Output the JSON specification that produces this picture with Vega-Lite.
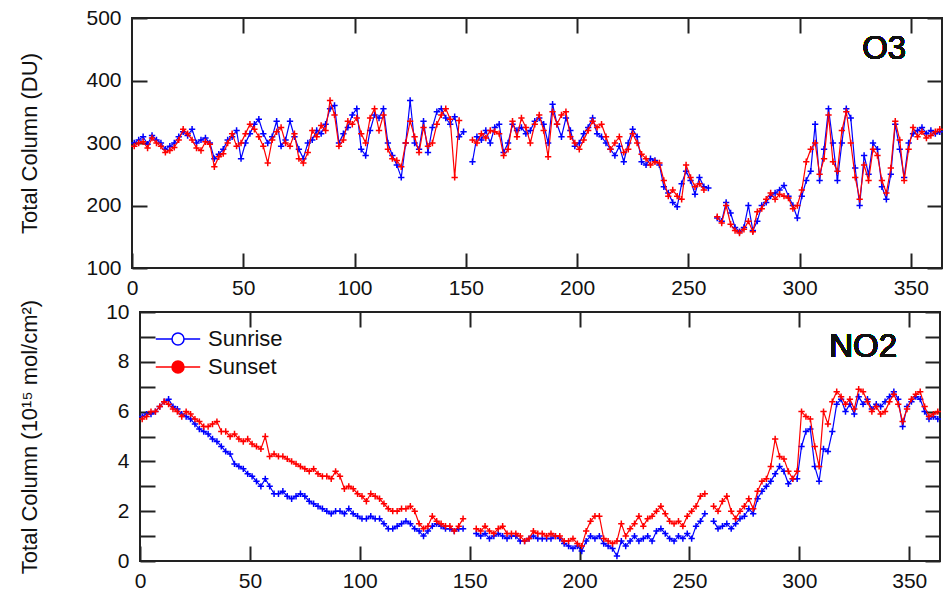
{
  "$schema": "https://vega.github.io/schema/vega-lite/v6.json",
  "background": "white",
  "padding": {"left": 16, "top": 6, "right": 0, "bottom": 0},
  "config": {
    "font": "Liberation Sans",
    "view": {"stroke": "#222", "strokeWidth": 2},
    "axis": {"domain": false, "grid": false, "labelFont": "Liberation Sans", "labelFontSize": 21, "labelColor": "#111", "titleFont": "Liberation Sans", "titleFontSize": 22, "titleFontWeight": "normal", "titleColor": "#111", "tickColor": "#222", "tickWidth": 2, "labelFlush": false, "labelOverlap": false}
  },
  "datasets": {
    "v": [
      {"d":1,"or":300,"os":295,"nr":5.8,"ns":5.7},
      {"d":3,"or":305,"os":300,"nr":5.9,"ns":5.8},
      {"d":5,"or":310,"os":302,"nr":5.9,"ns":6.0},
      {"d":7,"or":298,"os":292,"nr":6.0,"ns":6.0},
      {"d":9,"or":312,"os":308,"nr":6.2,"ns":6.2},
      {"d":11,"or":305,"os":300,"nr":6.4,"ns":6.4},
      {"d":13,"or":300,"os":295,"nr":6.5,"ns":6.3},
      {"d":15,"or":290,"os":285,"nr":6.2,"ns":6.1},
      {"d":17,"or":295,"os":288,"nr":6.1,"ns":6.0},
      {"d":19,"or":300,"os":293,"nr":5.9,"ns":5.8},
      {"d":21,"or":310,"os":305,"nr":5.8,"ns":6.0},
      {"d":23,"or":318,"os":322,"nr":5.7,"ns":5.9},
      {"d":25,"or":312,"os":315,"nr":5.5,"ns":5.7},
      {"d":27,"or":322,"os":305,"nr":5.3,"ns":5.6},
      {"d":29,"or":300,"os":292,"nr":5.2,"ns":5.4},
      {"d":31,"or":305,"os":288,"nr":5.1,"ns":5.4},
      {"d":33,"or":308,"os":302,"nr":4.9,"ns":5.5},
      {"d":35,"or":300,"os":298,"nr":4.8,"ns":5.6},
      {"d":37,"or":275,"os":262,"nr":4.6,"ns":5.2},
      {"d":39,"or":282,"os":278,"nr":4.4,"ns":5.2},
      {"d":41,"or":290,"os":283,"nr":4.3,"ns":5.0},
      {"d":43,"or":305,"os":300,"nr":3.9,"ns":5.1},
      {"d":45,"or":310,"os":315,"nr":3.8,"ns":4.9},
      {"d":47,"or":320,"os":295,"nr":3.7,"ns":4.8},
      {"d":49,"or":275,"os":300,"nr":3.5,"ns":4.9},
      {"d":51,"or":300,"os":315,"nr":3.4,"ns":4.7},
      {"d":53,"or":315,"os":330,"nr":3.2,"ns":4.6},
      {"d":55,"or":330,"os":322,"nr":3.0,"ns":4.5},
      {"d":57,"or":338,"os":310,"nr":3.3,"ns":5.0},
      {"d":59,"or":315,"os":295,"nr":3.0,"ns":4.2},
      {"d":61,"or":300,"os":268,"nr":2.7,"ns":4.3},
      {"d":63,"or":310,"os":305,"nr":2.7,"ns":4.2},
      {"d":65,"or":335,"os":318,"nr":2.8,"ns":4.2},
      {"d":67,"or":295,"os":325,"nr":2.6,"ns":4.1},
      {"d":69,"or":305,"os":300,"nr":2.5,"ns":4.0},
      {"d":71,"or":335,"os":295,"nr":2.6,"ns":3.9},
      {"d":73,"or":310,"os":315,"nr":2.7,"ns":3.8},
      {"d":75,"or":290,"os":275,"nr":2.6,"ns":3.7},
      {"d":77,"or":275,"os":268,"nr":2.4,"ns":3.6},
      {"d":79,"or":300,"os":285,"nr":2.3,"ns":3.7},
      {"d":81,"or":305,"os":320,"nr":2.2,"ns":3.5},
      {"d":83,"or":320,"os":310,"nr":2.1,"ns":3.4},
      {"d":85,"or":315,"os":328,"nr":2.0,"ns":3.4},
      {"d":87,"or":330,"os":320,"nr":1.9,"ns":3.3},
      {"d":89,"or":355,"os":368,"nr":2.0,"ns":3.6},
      {"d":91,"or":360,"os":345,"nr":2.0,"ns":3.4},
      {"d":93,"or":300,"os":295,"nr":1.9,"ns":2.9},
      {"d":95,"or":315,"os":305,"nr":2.1,"ns":3.0},
      {"d":97,"or":325,"os":335,"nr":1.9,"ns":2.9},
      {"d":99,"or":345,"os":330,"nr":1.8,"ns":2.7},
      {"d":101,"or":355,"os":340,"nr":1.7,"ns":2.6},
      {"d":103,"or":290,"os":315,"nr":1.7,"ns":2.4},
      {"d":105,"or":280,"os":300,"nr":1.8,"ns":2.7},
      {"d":107,"or":320,"os":340,"nr":1.7,"ns":2.6},
      {"d":109,"or":345,"os":355,"nr":1.7,"ns":2.5},
      {"d":111,"or":340,"os":320,"nr":1.5,"ns":2.3},
      {"d":113,"or":355,"os":345,"nr":1.3,"ns":2.1},
      {"d":115,"or":300,"os":290,"nr":1.3,"ns":2.0},
      {"d":117,"or":280,"os":275,"nr":1.4,"ns":2.0},
      {"d":119,"or":265,"os":272,"nr":1.5,"ns":2.1},
      {"d":121,"or":245,"os":262,"nr":1.6,"ns":2.1},
      {"d":123,"or":300,"os":300,"nr":1.5,"ns":2.2},
      {"d":125,"or":368,"os":335,"nr":1.3,"ns":2.0},
      {"d":127,"or":300,"os":310,"nr":1.2,"ns":1.5},
      {"d":129,"or":290,"os":285,"nr":1.0,"ns":1.3},
      {"d":131,"or":335,"os":325,"nr":1.2,"ns":1.4},
      {"d":133,"or":285,"os":295,"nr":1.4,"ns":1.8},
      {"d":135,"or":325,"os":300,"nr":1.5,"ns":1.6},
      {"d":137,"or":350,"os":330,"nr":1.4,"ns":1.5},
      {"d":139,"or":355,"os":345,"nr":1.3,"ns":1.4},
      {"d":141,"or":340,"os":355,"nr":1.3,"ns":1.4},
      {"d":143,"or":330,"os":338,"nr":1.2,"ns":1.2},
      {"d":145,"or":342,"os":245,"nr":1.3,"ns":1.4},
      {"d":147,"or":310,"os":336,"nr":1.3,"ns":1.7},
      {"d":149,"or":318,"os":null,"nr":null,"ns":null},
      {"d":151,"or":null,"os":null,"nr":null,"ns":null},
      {"d":153,"or":270,"os":305,"nr":1.1,"ns":1.3},
      {"d":155,"or":310,"os":300,"nr":1.0,"ns":1.2},
      {"d":157,"or":305,"os":315,"nr":1.1,"ns":1.4},
      {"d":159,"or":320,"os":308,"nr":0.9,"ns":1.2},
      {"d":161,"or":300,"os":320,"nr":1.0,"ns":1.1},
      {"d":163,"or":325,"os":318,"nr":1.1,"ns":1.3},
      {"d":165,"or":330,"os":315,"nr":1.0,"ns":1.4},
      {"d":167,"or":285,"os":280,"nr":0.9,"ns":1.1},
      {"d":169,"or":300,"os":290,"nr":1.0,"ns":1.1},
      {"d":171,"or":330,"os":335,"nr":1.0,"ns":1.1},
      {"d":173,"or":320,"os":310,"nr":0.8,"ns":1.0},
      {"d":175,"or":325,"os":340,"nr":0.8,"ns":0.8},
      {"d":177,"or":315,"os":325,"nr":0.9,"ns":0.9},
      {"d":179,"or":320,"os":300,"nr":1.0,"ns":1.2},
      {"d":181,"or":335,"os":330,"nr":0.9,"ns":1.1},
      {"d":183,"or":340,"os":345,"nr":0.9,"ns":1.1},
      {"d":185,"or":330,"os":320,"nr":0.9,"ns":1.0},
      {"d":187,"or":300,"os":278,"nr":0.9,"ns":1.1},
      {"d":189,"or":362,"os":350,"nr":1.0,"ns":1.0},
      {"d":191,"or":330,"os":330,"nr":0.9,"ns":1.0},
      {"d":193,"or":310,"os":345,"nr":0.7,"ns":0.8},
      {"d":195,"or":340,"os":350,"nr":0.6,"ns":0.8},
      {"d":197,"or":320,"os":310,"nr":0.5,"ns":0.9},
      {"d":199,"or":295,"os":300,"nr":0.6,"ns":0.7},
      {"d":201,"or":300,"os":290,"nr":0.4,"ns":0.6},
      {"d":203,"or":315,"os":305,"nr":0.8,"ns":1.2},
      {"d":205,"or":325,"os":320,"nr":1.0,"ns":1.6},
      {"d":207,"or":340,"os":335,"nr":0.9,"ns":1.8},
      {"d":209,"or":315,"os":325,"nr":1.0,"ns":1.8},
      {"d":211,"or":310,"os":330,"nr":0.7,"ns":0.9},
      {"d":213,"or":300,"os":310,"nr":0.6,"ns":0.8},
      {"d":215,"or":290,"os":290,"nr":0.5,"ns":0.7},
      {"d":217,"or":280,"os":300,"nr":0.2,"ns":0.8},
      {"d":219,"or":295,"os":310,"nr":0.8,"ns":1.5},
      {"d":221,"or":270,"os":285,"nr":0.6,"ns":1.0},
      {"d":223,"or":300,"os":290,"nr":0.8,"ns":1.3},
      {"d":225,"or":322,"os":315,"nr":1.0,"ns":1.5},
      {"d":227,"or":310,"os":300,"nr":0.8,"ns":1.8},
      {"d":229,"or":270,"os":282,"nr":0.9,"ns":1.4},
      {"d":231,"or":265,"os":275,"nr":1.0,"ns":1.7},
      {"d":233,"or":275,"os":265,"nr":0.8,"ns":1.8},
      {"d":235,"or":272,"os":270,"nr":1.2,"ns":2.0},
      {"d":237,"or":265,"os":268,"nr":1.3,"ns":2.2},
      {"d":239,"or":230,"os":240,"nr":1.1,"ns":1.9},
      {"d":241,"or":220,"os":215,"nr":0.9,"ns":1.6},
      {"d":243,"or":205,"os":225,"nr":0.8,"ns":1.5},
      {"d":245,"or":198,"os":215,"nr":1.0,"ns":1.6},
      {"d":247,"or":235,"os":210,"nr":0.9,"ns":1.4},
      {"d":249,"or":255,"os":265,"nr":1.1,"ns":1.8},
      {"d":251,"or":240,"os":245,"nr":0.9,"ns":2.0},
      {"d":253,"or":218,"os":230,"nr":1.4,"ns":2.2},
      {"d":255,"or":245,"os":235,"nr":1.6,"ns":2.6},
      {"d":257,"or":230,"os":225,"nr":1.9,"ns":2.7},
      {"d":259,"or":228,"os":null,"nr":null,"ns":null},
      {"d":261,"or":null,"os":null,"nr":1.6,"ns":2.2},
      {"d":263,"or":180,"os":182,"nr":1.3,"ns":2.0},
      {"d":265,"or":175,"os":172,"nr":1.4,"ns":2.4},
      {"d":267,"or":205,"os":200,"nr":1.5,"ns":2.6},
      {"d":269,"or":188,"os":170,"nr":1.3,"ns":2.0},
      {"d":271,"or":165,"os":160,"nr":1.5,"ns":1.7},
      {"d":273,"or":158,"os":156,"nr":1.7,"ns":2.0},
      {"d":275,"or":165,"os":162,"nr":1.8,"ns":2.2},
      {"d":277,"or":200,"os":175,"nr":2.1,"ns":2.5},
      {"d":279,"or":160,"os":158,"nr":1.9,"ns":2.1},
      {"d":281,"or":175,"os":190,"nr":2.5,"ns":2.8},
      {"d":283,"or":200,"os":195,"nr":2.8,"ns":3.2},
      {"d":285,"or":205,"os":210,"nr":3.0,"ns":3.3},
      {"d":287,"or":215,"os":220,"nr":3.2,"ns":3.8},
      {"d":289,"or":220,"os":210,"nr":3.5,"ns":4.9},
      {"d":291,"or":225,"os":218,"nr":3.8,"ns":4.2},
      {"d":293,"or":232,"os":215,"nr":3.6,"ns":4.1},
      {"d":295,"or":215,"os":212,"nr":3.1,"ns":3.6},
      {"d":297,"or":200,"os":195,"nr":3.3,"ns":3.3},
      {"d":299,"or":180,"os":200,"nr":3.3,"ns":3.6},
      {"d":301,"or":215,"os":225,"nr":4.6,"ns":6.0},
      {"d":303,"or":240,"os":270,"nr":5.2,"ns":5.8},
      {"d":305,"or":255,"os":290,"nr":5.3,"ns":5.7},
      {"d":307,"or":330,"os":300,"nr":3.8,"ns":4.6},
      {"d":309,"or":240,"os":250,"nr":3.2,"ns":3.8},
      {"d":311,"or":290,"os":275,"nr":4.5,"ns":6.0},
      {"d":313,"or":355,"os":345,"nr":4.4,"ns":5.5},
      {"d":315,"or":300,"os":270,"nr":5.2,"ns":6.4},
      {"d":317,"or":240,"os":255,"nr":6.3,"ns":6.8},
      {"d":319,"or":300,"os":320,"nr":6.5,"ns":6.6},
      {"d":321,"or":355,"os":350,"nr":6.0,"ns":6.3},
      {"d":323,"or":340,"os":300,"nr":6.3,"ns":6.5},
      {"d":325,"or":260,"os":245,"nr":5.9,"ns":6.1},
      {"d":327,"or":200,"os":210,"nr":6.6,"ns":6.9},
      {"d":329,"or":280,"os":265,"nr":6.3,"ns":6.8},
      {"d":331,"or":250,"os":240,"nr":6.5,"ns":6.4},
      {"d":333,"or":300,"os":290,"nr":6.1,"ns":6.0},
      {"d":335,"or":290,"os":280,"nr":6.3,"ns":6.2},
      {"d":337,"or":230,"os":240,"nr":6.2,"ns":5.9},
      {"d":339,"or":210,"os":220,"nr":6.4,"ns":6.0},
      {"d":341,"or":250,"os":260,"nr":6.6,"ns":6.4},
      {"d":343,"or":330,"os":335,"nr":6.8,"ns":6.7},
      {"d":345,"or":290,"os":305,"nr":6.5,"ns":6.3},
      {"d":347,"or":245,"os":240,"nr":5.4,"ns":5.6},
      {"d":349,"or":300,"os":290,"nr":6.2,"ns":6.1},
      {"d":351,"or":315,"os":325,"nr":6.4,"ns":6.5},
      {"d":353,"or":320,"os":310,"nr":6.6,"ns":6.7},
      {"d":355,"or":325,"os":318,"nr":6.5,"ns":6.8},
      {"d":357,"or":315,"os":308,"nr":6.0,"ns":6.2},
      {"d":359,"or":320,"os":312,"nr":5.7,"ns":5.8},
      {"d":361,"or":315,"os":318,"nr":5.8,"ns":5.9},
      {"d":363,"or":318,"os":322,"nr":5.7,"ns":6.0}
    ]
  },
  "columns": 1,
  "align": "none",
  "spacing": -1,
  "resolve": {"legend": {"color": "independent"}},
  "concat": [
    {
      "spacing": 0,
      "resolve": {"legend": {"color": "independent"}},
      "hconcat": [
        {"width": 1, "height": 1, "view": {"stroke": null}, "data": {"values": [{"a": 0}]}, "mark": {"type": "text"}, "encoding": {"text": {"value": ""}}},
        {
          "width": 810,
          "height": 250,
          "data": {"name": "v"},
          "resolve": {"axis": {"x": "independent", "y": "independent"}},
          "layer": [
            {
              "mark": {"type": "line", "strokeWidth": 1.2, "invalid": "break-paths-show-domains"},
              "encoding": {
                "x": {"field": "d", "type": "quantitative", "scale": {"domain": [0, 364], "nice": false, "zero": false},
                      "axis": {"orient": "bottom", "values": [0, 50, 100, 150, 200, 250, 300, 350], "tickSize": -15, "labelPadding": 24, "title": null}},
                "y": {"field": "or", "type": "quantitative", "scale": {"domain": [100, 500], "nice": false, "zero": false},
                      "axis": {"orient": "left", "values": [100, 200, 300, 400, 500], "tickSize": -15, "labelPadding": 26, "title": "Total Column  (DU)", "titlePadding": 44}},
                "color": {"datum": "Sunrise", "scale": {"domain": ["Sunrise", "Sunset"], "range": ["#0000ff", "#ff0000"]}, "legend": null}
              }
            },
            {
              "mark": {"type": "point", "shape": "M-1,0H1M0,-1V1", "filled": false, "size": 40, "strokeWidth": 1.5, "opacity": 1},
              "encoding": {
                "x": {"field": "d", "type": "quantitative", "scale": {"domain": [0, 364], "nice": false, "zero": false},
                      "axis": {"orient": "top", "values": [50, 100, 150, 200, 250, 300, 350], "tickSize": -15, "labels": false, "title": null}},
                "y": {"field": "or", "type": "quantitative", "scale": {"domain": [100, 500], "nice": false, "zero": false},
                      "axis": {"orient": "right", "values": [100, 200, 300, 400, 500], "tickSize": -15, "labels": false, "title": null}},
                "color": {"datum": "Sunrise", "scale": {"domain": ["Sunrise", "Sunset"], "range": ["#0000ff", "#ff0000"]}, "legend": null}
              }
            },
            {
              "mark": {"type": "line", "strokeWidth": 1.2, "invalid": "break-paths-show-domains"},
              "encoding": {
                "x": {"field": "d", "type": "quantitative", "scale": {"domain": [0, 364], "nice": false, "zero": false}, "axis": null},
                "y": {"field": "os", "type": "quantitative", "scale": {"domain": [100, 500], "nice": false, "zero": false}, "axis": null},
                "color": {"datum": "Sunset", "scale": {"domain": ["Sunrise", "Sunset"], "range": ["#0000ff", "#ff0000"]}, "legend": null}
              }
            },
            {
              "mark": {"type": "point", "shape": "M-1,0H1M0,-1V1", "filled": false, "size": 40, "strokeWidth": 1.5, "opacity": 1},
              "encoding": {
                "x": {"field": "d", "type": "quantitative", "scale": {"domain": [0, 364], "nice": false, "zero": false}, "axis": null},
                "y": {"field": "os", "type": "quantitative", "scale": {"domain": [100, 500], "nice": false, "zero": false}, "axis": null},
                "color": {"datum": "Sunset", "scale": {"domain": ["Sunrise", "Sunset"], "range": ["#0000ff", "#ff0000"]}, "legend": null}
              }
            },
            {
              "mark": {"type": "text", "font": "Liberation Sans", "fontSize": 33, "fontWeight": "normal", "color": "#111"},
              "encoding": {
                "x": {"datum": 338, "type": "quantitative", "scale": {"domain": [0, 364], "nice": false, "zero": false}, "axis": null},
                "y": {"datum": 450, "type": "quantitative", "scale": {"domain": [100, 500], "nice": false, "zero": false}, "axis": null},
                "text": {"value": "O3"}
              }
            }
          ]
        }
      ]
    },
    {
      "spacing": 0,
      "resolve": {"legend": {"color": "independent"}},
      "hconcat": [
        {"width": 1, "height": 1, "view": {"stroke": null}, "data": {"values": [{"a": 0}]}, "mark": {"type": "text"}, "encoding": {"text": {"value": ""}}},
        {
          "width": 800,
          "height": 249,
          "data": {"name": "v"},
          "resolve": {"axis": {"x": "independent", "y": "independent"}},
          "layer": [
            {
              "mark": {"type": "line", "strokeWidth": 1.2, "invalid": "break-paths-show-domains"},
              "encoding": {
                "x": {"field": "d", "type": "quantitative", "scale": {"domain": [0, 364], "nice": false, "zero": false},
                      "axis": {"orient": "bottom", "values": [0, 50, 100, 150, 200, 250, 300, 350], "tickSize": -15, "labelPadding": 24, "title": null}},
                "y": {"field": "nr", "type": "quantitative", "scale": {"domain": [0, 10], "nice": false, "zero": false},
                      "axis": {"orient": "left", "values": [0, 1, 2, 3, 4, 5, 6, 7, 8, 9, 10], "tickSize": -15, "labelPadding": 26, "labelExpr": "datum.value % 2 ? '' : datum.label", "title": "Total Column (10¹⁵ mol/cm²)", "titlePadding": 64,
                               "encode": {"ticks": {"update": {"x2": {"signal": "datum.value % 2 ? 8 : 15"}}}}}},
                "color": {"datum": "Sunrise", "scale": {"domain": ["Sunrise", "Sunset"], "range": ["#0000ff", "#ff0000"]},
                          "legend": {"orient": "none", "legendX": 27, "legendY": 16, "title": null, "symbolType": "M-3.7,0H-1M1,0H3.7M-1,0A1,1,0,1,1,1,0A1,1,0,1,1,-1,0Z", "symbolSize": 144, "symbolStrokeWidth": 1.5, "labelFontSize": 22, "labelFont": "Liberation Sans", "labelColor": "#111", "labelOffset": 19, "rowPadding": 6, "padding": 0,
                                     "encode": {"symbols": {"update": {"fill": {"signal": "datum.value === 'Sunset' ? '#ff0000' : '#ffffff'"}}}}}}
              }
            },
            {
              "mark": {"type": "point", "shape": "M-1,0H1M0,-1V1", "filled": false, "size": 40, "strokeWidth": 1.5, "opacity": 1},
              "encoding": {
                "x": {"field": "d", "type": "quantitative", "scale": {"domain": [0, 364], "nice": false, "zero": false},
                      "axis": {"orient": "top", "values": [50, 100, 150, 200, 250, 300, 350], "tickSize": -15, "labels": false, "title": null}},
                "y": {"field": "nr", "type": "quantitative", "scale": {"domain": [0, 10], "nice": false, "zero": false},
                      "axis": {"orient": "right", "values": [0, 1, 2, 3, 4, 5, 6, 7, 8, 9, 10], "tickSize": -15, "labels": false, "title": null,
                               "encode": {"ticks": {"update": {"x2": {"signal": "datum.value % 2 ? -8 : -15"}}}}}},
                "color": {"datum": "Sunrise", "scale": {"domain": ["Sunrise", "Sunset"], "range": ["#0000ff", "#ff0000"]},
                          "legend": {"orient": "none", "legendX": 27, "legendY": 16, "title": null, "symbolType": "M-3.7,0H-1M1,0H3.7M-1,0A1,1,0,1,1,1,0A1,1,0,1,1,-1,0Z", "symbolSize": 144, "symbolStrokeWidth": 1.5, "labelFontSize": 22, "labelFont": "Liberation Sans", "labelColor": "#111", "labelOffset": 19, "rowPadding": 6, "padding": 0,
                                     "encode": {"symbols": {"update": {"fill": {"signal": "datum.value === 'Sunset' ? '#ff0000' : '#ffffff'"}}}}}}
              }
            },
            {
              "mark": {"type": "line", "strokeWidth": 1.2, "invalid": "break-paths-show-domains"},
              "encoding": {
                "x": {"field": "d", "type": "quantitative", "scale": {"domain": [0, 364], "nice": false, "zero": false}, "axis": null},
                "y": {"field": "ns", "type": "quantitative", "scale": {"domain": [0, 10], "nice": false, "zero": false}, "axis": null},
                "color": {"datum": "Sunset", "scale": {"domain": ["Sunrise", "Sunset"], "range": ["#0000ff", "#ff0000"]},
                          "legend": {"orient": "none", "legendX": 27, "legendY": 16, "title": null, "symbolType": "M-3.7,0H-1M1,0H3.7M-1,0A1,1,0,1,1,1,0A1,1,0,1,1,-1,0Z", "symbolSize": 144, "symbolStrokeWidth": 1.5, "labelFontSize": 22, "labelFont": "Liberation Sans", "labelColor": "#111", "labelOffset": 19, "rowPadding": 6, "padding": 0,
                                     "encode": {"symbols": {"update": {"fill": {"signal": "datum.value === 'Sunset' ? '#ff0000' : '#ffffff'"}}}}}}
              }
            },
            {
              "mark": {"type": "point", "shape": "M-1,0H1M0,-1V1", "filled": false, "size": 40, "strokeWidth": 1.5, "opacity": 1},
              "encoding": {
                "x": {"field": "d", "type": "quantitative", "scale": {"domain": [0, 364], "nice": false, "zero": false}, "axis": null},
                "y": {"field": "ns", "type": "quantitative", "scale": {"domain": [0, 10], "nice": false, "zero": false}, "axis": null},
                "color": {"datum": "Sunset", "scale": {"domain": ["Sunrise", "Sunset"], "range": ["#0000ff", "#ff0000"]},
                          "legend": {"orient": "none", "legendX": 27, "legendY": 16, "title": null, "symbolType": "M-3.7,0H-1M1,0H3.7M-1,0A1,1,0,1,1,1,0A1,1,0,1,1,-1,0Z", "symbolSize": 144, "symbolStrokeWidth": 1.5, "labelFontSize": 22, "labelFont": "Liberation Sans", "labelColor": "#111", "labelOffset": 19, "rowPadding": 6, "padding": 0,
                                     "encode": {"symbols": {"update": {"fill": {"signal": "datum.value === 'Sunset' ? '#ff0000' : '#ffffff'"}}}}}}
              }
            },
            {
              "mark": {"type": "text", "font": "Liberation Sans", "fontSize": 33, "fontWeight": "normal", "color": "#111"},
              "encoding": {
                "x": {"datum": 329, "type": "quantitative", "scale": {"domain": [0, 364], "nice": false, "zero": false}, "axis": null},
                "y": {"datum": 8.6, "type": "quantitative", "scale": {"domain": [0, 10], "nice": false, "zero": false}, "axis": null},
                "text": {"value": "NO2"}
              }
            }
          ]
        }
      ]
    }
  ]
}
